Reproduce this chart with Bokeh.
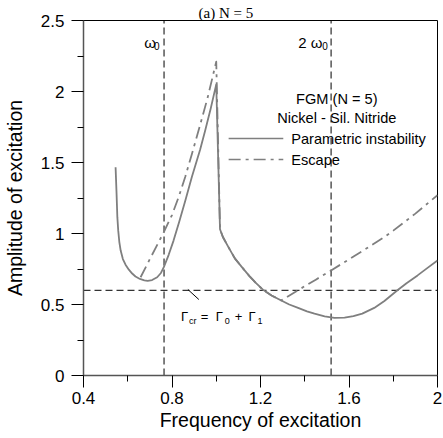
from bokeh.plotting import figure
from bokeh.models import FixedTicker, Label
from bokeh.embed import file_html
from bokeh.resources import INLINE

# ---- data ----
param_x = [0.545, 0.549, 0.553, 0.557, 0.562, 0.568, 0.578, 0.590, 0.605, 0.620, 0.635, 0.655,
           0.675, 0.690, 0.710, 0.733, 0.750, 0.763, 0.785, 0.807, 0.833, 0.860, 0.890, 0.927,
           0.950, 0.975, 1.000, 1.017, 1.030, 1.055, 1.084, 1.115, 1.150, 1.180, 1.212, 1.250,
           1.294, 1.330, 1.370, 1.410, 1.444, 1.490, 1.534, 1.580, 1.620, 1.660, 1.714, 1.760,
           1.819, 1.860, 1.910, 1.955, 2.000]
param_y = [1.467, 1.300, 1.115, 1.020, 0.940, 0.880, 0.820, 0.780, 0.745, 0.718, 0.697, 0.680,
           0.670, 0.667, 0.672, 0.692, 0.722, 0.763, 0.850, 0.950, 1.085, 1.230, 1.400, 1.590,
           1.725, 1.880, 2.050, 1.030, 0.975, 0.904, 0.825, 0.765, 0.700, 0.650, 0.603, 0.563,
           0.528, 0.500, 0.476, 0.452, 0.435, 0.417, 0.406, 0.408, 0.418, 0.436, 0.476, 0.525,
           0.600, 0.650, 0.705, 0.758, 0.810]

escape_x = [0.658, 0.700, 0.763, 0.800, 0.830, 0.860, 0.890, 0.920, 0.960, 1.000, 1.017, 1.030,
            1.055, 1.084, 1.115, 1.150, 1.180, 1.212, 1.250, 1.294, 1.369, 1.450, 1.519, 1.600,
            1.680, 1.759, 1.800, 1.900, 2.000]
escape_y = [0.692, 0.820, 1.010, 1.130, 1.256, 1.400, 1.560, 1.725, 1.950, 2.210, 1.030, 0.975,
            0.904, 0.825, 0.765, 0.700, 0.650, 0.603, 0.563, 0.528, 0.600, 0.675, 0.740, 0.818,
            0.896, 0.974, 1.020, 1.140, 1.270]

omega0 = 0.764
two_omega0 = 1.519
gamma_cr = 0.6

x_ticks = [0.4, 0.8, 1.2, 1.6, 2.0]
x_tick_labels = ["0.4", "0.8", "1.2", "1.6", "2"]
x_minor = [0.6, 1.0, 1.4, 1.8]
y_ticks = [0, 0.5, 1.0, 1.5, 2.0, 2.5]
y_tick_labels = ["0", "0.5", "1", "1.5", "2", "2.5"]
y_minor = [0.25, 0.75, 1.25, 1.75, 2.25]

SANS = "Liberation Sans"
GRAY = "#7f7f7f"

p = figure(width=443, height=438, x_range=(0.4, 2.0), y_range=(0, 2.5),
           output_backend="svg", toolbar_location=None,
           min_border_left=81, min_border_right=6, min_border_top=20, min_border_bottom=63)
p.grid.visible = False
p.outline_line_color = "black"
p.outline_line_width = 1
p.background_fill_color = "white"
p.border_fill_color = "white"

# title (the reference shows it cut at the top edge; kept small and fully visible here)
p.title.text = "(a) N = 5"
p.title.text_font = "Liberation Serif"
p.title.text_font_size = "15px"
p.title.text_font_style = "normal"
p.title.text_color = "black"
p.title.align = "left"
p.title.offset = 115
p.title.standoff = 0

for ax, ticks, labels, minor in ((p.xaxis[0], x_ticks, x_tick_labels, x_minor),
                                 (p.yaxis[0], y_ticks, y_tick_labels, y_minor)):
    ax.ticker = FixedTicker(ticks=ticks, minor_ticks=minor)
    ax.major_label_overrides = {t: l for t, l in zip(ticks, labels)}
    ax.major_tick_out = 12
    ax.major_tick_in = 0
    ax.minor_tick_out = 6
    ax.minor_tick_in = 0
    ax.major_tick_line_color = "black"
    ax.minor_tick_line_color = "black"
    ax.axis_line_color = "#555555"
    ax.axis_line_width = 1.5
    ax.major_label_text_font = SANS
    ax.major_label_text_font_size = "17px"
    ax.major_label_text_color = "black"
    ax.axis_label_text_font = SANS
    ax.axis_label_text_font_size = "19.5px"
    ax.axis_label_text_font_style = "normal"
    ax.axis_label_text_color = "black"

p.xaxis.axis_label = "Frequency of excitation"
p.yaxis.axis_label = "Amplitude of excitation"
p.xaxis.major_label_standoff = 4
p.xaxis.axis_label_standoff = 2
p.yaxis.major_label_standoff = 7
p.yaxis.axis_label_standoff = 12

# reference dashed lines
p.line([omega0, omega0], [0, 2.5], color="black", line_width=1, line_dash="7 4")
p.line([two_omega0, two_omega0], [0, 2.5], color="black", line_width=1, line_dash="7 4")
p.line([0.4, 2.0], [gamma_cr, gamma_cr], color="black", line_width=1, line_dash="7 4")

# curves
p.line(escape_x, escape_y, color=GRAY, line_width=1.8, line_dash="12 5 3 5", line_join="round")
p.line(param_x, param_y, color=GRAY, line_width=1.8, line_join="round")

# legend block (manual)
p.line([1.056, 1.303], [1.669, 1.669], color=GRAY, line_width=1.5)
p.line([1.056, 1.303], [1.521, 1.521], color=GRAY, line_width=1.5, line_dash="12 5 3 5")
for txt, x, y, align in (("FGM (N = 5)", 1.545, 1.944, "center"),
                         ("Nickel - Sil. Nitride", 1.545, 1.810, "center"),
                         ("Parametric instability", 1.339, 1.669, "left"),
                         ("Escape", 1.339, 1.521, "left")):
    p.add_layout(Label(x=x, y=y, text=txt, text_align=align, text_baseline="middle",
                       text_font=SANS, text_font_size="14.6px", text_color="black"))


def px2x(px):
    return 0.4 + (px - 81) / 222.5


def py2y(py):
    return (375 - py) / 142.0


pieces = [
    ("ω", 142, 42, "15px"), ("0", 152, 45, "10px"),
    ("2 ω", 297, 42, "15px"), ("0", 321, 45, "10px"),
    ("Γ", 179, 316, "13px"), ("cr", 187, 320, "9px"), ("=", 199, 316, "13px"),
    ("Γ", 214, 316, "13px"), ("0", 223, 320, "9px"), ("+", 233, 316, "13px"),
    ("Γ", 247, 316, "13px"), ("1", 256, 320, "9px"),
]
for txt, px, py, fs in pieces:
    p.add_layout(Label(x=px2x(px), y=py2y(py), text=txt, text_align="left",
                       text_baseline="alphabetic", text_font=SANS, text_font_size=fs,
                       text_color="black"))

# leader line to the critical level
p.line([px2x(186), px2x(197)], [py2y(289), py2y(299)], color="black", line_width=1)

open("out.html", "w").write(file_html(p, INLINE))
